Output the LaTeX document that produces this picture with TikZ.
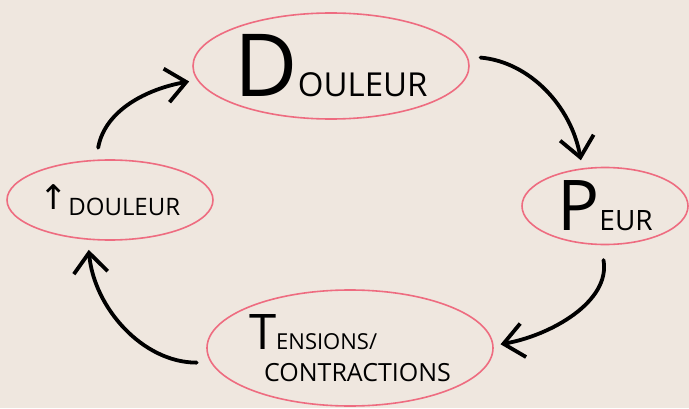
\documentclass[tikz,border=0pt]{standalone}
\usepackage{fontspec}
\setmainfont{Open Sans}
\newfontfamily\symbolfont{DejaVu Sans}
\usepackage{tikz}
\usetikzlibrary{shapes,arrows.meta,positioning,calc}
\definecolor{cyclepink}{RGB}{238, 108, 128}
\definecolor{cyclebeige}{RGB}{239, 231, 223}

\begin{document}
\begin{tikzpicture}[x=1pt, y=1pt, >={Straight Barb[length=20pt,width=34pt]}]
    \tikzstyle{etat} = [ellipse, draw=cyclepink, line width=1.6pt, inner sep=0pt, text=black]
    \tikzstyle{fleche} = [draw, ->, line width=3.8pt, line cap=round, black]

    \fill [cyclebeige] (0,0) rectangle (689,408);
    \useasboundingbox (0,0) rectangle (689,408);

    \node [etat, minimum width=276pt, minimum height=106pt] (douleur) at (331,342) {{\fontsize{87}{87}\selectfont D}{\fontsize{33}{33}\selectfont OULEUR}};
    \node [etat, minimum width=206pt, minimum height=80pt] (hausse) at (110,208) {\raisebox{6pt}{\symbolfont\fontsize{34}{34}\selectfont ↑}{\fontsize{24}{24}\selectfont DOULEUR}};
    \node [etat, minimum width=166pt, minimum height=77pt] (peur) at (605,202) {{\fontsize{70}{70}\selectfont P}{\fontsize{28}{28}\selectfont EUR}};
    \node [etat, minimum width=286pt, minimum height=116pt, align=left] (tensions) at (350,60) {{\fontsize{49}{49}\selectfont T}{\fontsize{22}{22}\selectfont ENSIONS/}\\[12pt]\hspace*{15pt}{\fontsize{25}{25}\selectfont CONTRACTIONS}};

    \path [fleche, shorten <=12pt, shorten >=8pt] (hausse.109) to[out=80, in=190] (douleur.186);
    \path [fleche, shorten <=13pt, shorten >=8pt] (douleur.4) to[out=-5, in=100] (peur.121);
    \path [fleche, shorten <=15pt, shorten >=7pt] (peur.264) to[out=-80, in=10] (tensions.1);
    \path [fleche, shorten <=14pt, shorten >=10pt] (tensions.186) to[out=180, in=-85] (hausse.241);
  \end{tikzpicture}
\end{document}
